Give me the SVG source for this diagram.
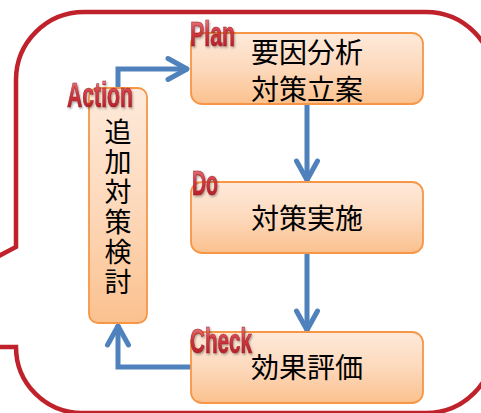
<svg xmlns="http://www.w3.org/2000/svg" width="481" height="413" viewBox="0 0 481 413">
<defs>
<linearGradient id="boxg" x1="0" y1="0" x2="0" y2="1">
<stop offset="0" stop-color="#FEEADB"/>
<stop offset="0.5" stop-color="#FDD9BC"/>
<stop offset="1" stop-color="#FBC18E"/>
</linearGradient>
<linearGradient id="lblg" x1="0" y1="0" x2="0" y2="1">
<stop offset="0" stop-color="#EE9A9E"/>
<stop offset="0.45" stop-color="#D23A42"/>
<stop offset="1" stop-color="#A8161E"/>
</linearGradient>
<marker id="arr" markerUnits="userSpaceOnUse" markerWidth="40" markerHeight="40" refX="0" refY="0" viewBox="-30 -20 40 40" orient="auto" overflow="visible">
<path d="M-20,-10.5 L-1,0 L-20,10.5" fill="none" stroke="#4F81BD" stroke-width="5" stroke-linecap="round" stroke-linejoin="round"/>
</marker>
<filter id="sh" x="-20%" y="-20%" width="140%" height="140%">
<feDropShadow dx="1" dy="1.5" stdDeviation="0.8" flood-color="#000" flood-opacity="0.35"/>
</filter>
</defs>
<style>
.box{fill:url(#boxg);stroke:#F79646;stroke-width:1.8}
.jp{font-family:"Noto Sans CJK JP","Noto Sans CJK SC",sans-serif;font-size:28px;fill:#000;text-anchor:middle}
.jv{font-family:"Noto Sans CJK JP","Noto Sans CJK SC",sans-serif;font-size:27px;fill:#000;writing-mode:vertical-rl;letter-spacing:3px}
.lbl{font-family:"Liberation Sans","DejaVu Sans",sans-serif;font-weight:bold;font-size:35px;fill:url(#lblg);stroke:#9A1A20;stroke-width:0.6;filter:url(#sh)}
.con{fill:none;stroke:#4F81BD;stroke-width:5;stroke-linejoin:miter}
</style>
<path id="frame" d="M-5,258 L16,247 L16,80 A68,68 0 0 1 84,12 L426,12 A68,68 0 0 1 494,80 L494,345 A68,68 0 0 1 426,413 L82,413 A66,66 0 0 1 16,347 L-5,347" fill="none" stroke="#C0222B" stroke-width="4.5"/>
<g id="connectors">
<path class="con" d="M118,88 L118,69 L188,69" marker-end="url(#arr)"/>
<path class="con" d="M307,104 L307,181" marker-end="url(#arr)"/>
<path class="con" d="M307,253 L307,331" marker-end="url(#arr)"/>
<path class="con" d="M191,367 L118,367 L118,325" marker-end="url(#arr)"/>
</g>
<g id="plan">
<rect class="box" x="191" y="33" width="232" height="71" rx="11"/>
<text class="jp" x="307" y="63">要因分析</text>
<text class="jp" x="307" y="100">対策立案</text>
<text class="lbl" x="190" y="46" textLength="45" lengthAdjust="spacingAndGlyphs">Plan</text>
</g>
<g id="do">
<rect class="box" x="191" y="182" width="232" height="71" rx="11"/>
<text class="jp" x="307" y="229">対策実施</text>
<text class="lbl" x="192" y="195" textLength="26" lengthAdjust="spacingAndGlyphs">Do</text>
</g>
<g id="check">
<rect class="box" x="191" y="332" width="232" height="71" rx="11"/>
<text class="jp" x="307" y="378">効果評価</text>
<text class="lbl" x="190" y="353" textLength="62" lengthAdjust="spacingAndGlyphs">Check</text>
</g>
<g id="action">
<rect class="box" x="89" y="88" width="58" height="235" rx="9"/>
<text class="jv" x="118" y="118">追加対策検討</text>
<text class="lbl" x="67" y="107" textLength="66" lengthAdjust="spacingAndGlyphs">Action</text>
</g>
</svg>
